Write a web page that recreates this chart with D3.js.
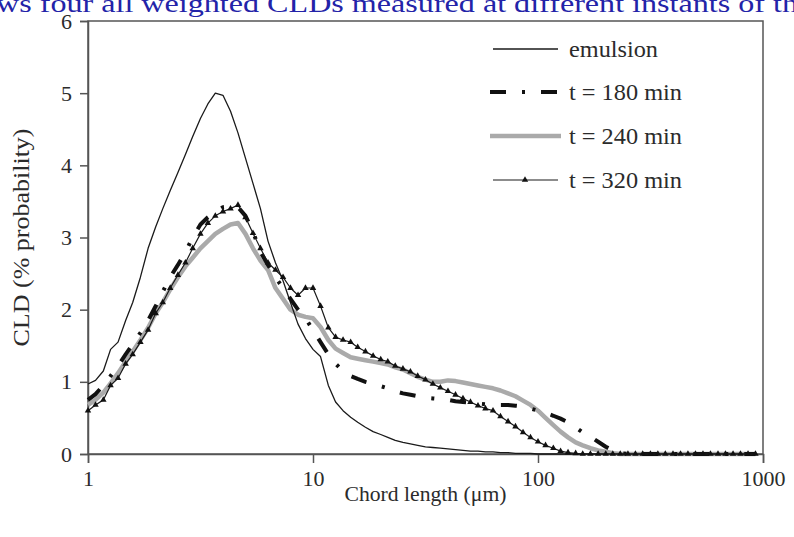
<!DOCTYPE html>
<html>
<head>
<meta charset="utf-8">
<script src="https://cdn.jsdelivr.net/npm/d3@7"></script>
<style>
  body { margin: 0; background: #fff; }
  svg { display: block; }
  text { font-family: "Liberation Serif", "Times New Roman", serif; fill: #2b2b2b; }
</style>
</head>
<body>
<div class="chart-box"></div>
<script>
// chord length channels (um), log spaced
var chord = [1, 1.08, 1.17, 1.26, 1.36, 1.47, 1.58, 1.71, 1.85, 2.00,
  2.15, 2.32, 2.51, 2.71, 2.92, 3.16, 3.41, 3.68, 3.98, 4.30,
  4.64, 5.01, 5.41, 5.84, 6.31, 6.81, 7.36, 7.94, 8.58, 9.26,
  10.0, 10.8, 11.7, 12.6, 13.6, 14.7, 15.8, 17.1, 18.5, 20.0,
  21.5, 23.2, 25.1, 27.1, 29.2, 31.6, 34.1, 36.8, 39.8, 43.0,
  46.4, 50.1, 54.1, 58.4, 63.1, 68.1, 73.6, 79.4, 85.8, 92.6,
  100, 108, 117, 126, 136, 147, 158, 171, 185, 200,
  215, 232, 251, 271, 292, 316, 341, 368, 398, 430,
  464, 501, 541, 584, 631, 681, 736, 794, 858, 926];

var emulsion = [0.97, 1.02, 1.15, 1.45, 1.55, 1.85, 2.10, 2.45, 2.85, 3.15,
  3.40, 3.65, 3.90, 4.15, 4.40, 4.65, 4.85, 5.00, 4.97, 4.75,
  4.45, 4.10, 3.75, 3.40, 2.95, 2.65, 2.40, 2.10, 1.80, 1.60,
  1.45, 1.35, 0.95, 0.72, 0.60, 0.51, 0.44, 0.37, 0.31, 0.27,
  0.23, 0.19, 0.16, 0.14, 0.12, 0.10, 0.09, 0.08, 0.07, 0.06,
  0.05, 0.04, 0.04, 0.03, 0.03, 0.02, 0.02, 0.01, 0.01, 0.01,
  0, 0, 0, 0, 0, 0, 0, 0, 0, 0,
  0, 0, 0, 0, 0, 0, 0, 0, 0, 0,
  0, 0, 0, 0, 0, 0, 0, 0, 0, 0];

var t180 = [0.75, 0.83, 0.95, 1.08, 1.22, 1.38, 1.52, 1.68, 1.85, 2.05,
  2.25, 2.45, 2.62, 2.80, 3.00, 3.18, 3.28, 3.35, 3.42, 3.43,
  3.42, 3.30, 3.08, 2.80, 2.62, 2.45, 2.30, 2.15, 2.00, 1.88,
  1.72, 1.55, 1.38, 1.25, 1.15, 1.08, 1.04, 1.00, 0.97, 0.94,
  0.91, 0.87, 0.84, 0.82, 0.80, 0.78, 0.77, 0.76, 0.75, 0.73,
  0.72, 0.71, 0.70, 0.69, 0.68, 0.68, 0.68, 0.67, 0.66, 0.63,
  0.60, 0.57, 0.53, 0.49, 0.44, 0.37, 0.30, 0.24, 0.17, 0.10,
  0.05, 0.01, 0, 0, 0, 0, 0, 0, 0, 0,
  0, 0, 0, 0, 0, 0, 0, 0, 0, 0];

var t240 = [0.68, 0.75, 0.85, 0.98, 1.12, 1.28, 1.42, 1.58, 1.75, 1.95,
  2.10, 2.28, 2.45, 2.60, 2.72, 2.85, 2.95, 3.05, 3.12, 3.18,
  3.20, 3.05, 2.85, 2.68, 2.55, 2.30, 2.15, 2.00, 1.93, 1.90,
  1.88, 1.76, 1.58, 1.46, 1.40, 1.34, 1.32, 1.30, 1.28, 1.26,
  1.24, 1.20, 1.17, 1.12, 1.07, 1.03, 1.00, 1.00, 1.02, 1.01,
  0.99, 0.97, 0.95, 0.93, 0.91, 0.88, 0.84, 0.80, 0.74, 0.68,
  0.60, 0.50, 0.40, 0.31, 0.23, 0.16, 0.12, 0.08, 0.05, 0.03,
  0.01, 0, 0, 0, 0, 0, 0, 0, 0, 0,
  0, 0, 0, 0, 0, 0, 0, 0, 0, 0];

var t320 = [0.60, 0.68, 0.75, 0.95, 1.05, 1.25, 1.38, 1.55, 1.72, 1.95,
  2.10, 2.30, 2.48, 2.65, 2.85, 3.05, 3.20, 3.30, 3.36, 3.40,
  3.45, 3.28, 3.06, 2.85, 2.65, 2.55, 2.45, 2.30, 2.20, 2.30,
  2.30, 2.05, 1.75, 1.62, 1.58, 1.55, 1.48, 1.42, 1.36, 1.31,
  1.28, 1.22, 1.18, 1.14, 1.08, 1.03, 0.97, 0.92, 0.87, 0.82,
  0.77, 0.72, 0.67, 0.63, 0.60, 0.52, 0.45, 0.38, 0.30, 0.23,
  0.17, 0.12, 0.08, 0.04, 0.02, 0.01, 0, 0, 0, 0,
  0, 0, 0, 0, 0, 0, 0, 0, 0, 0,
  0, 0, 0, 0, 0, 0, 0, 0, 0, 0];

var series_names = ["emulsion", "t = 180 min", "t = 240 min", "t = 320 min"];
var y_ticks = [0, 1, 2, 3, 4, 5, 6];
var x_ticks = [1, 10, 100, 1000];

var width = 794, height = 537;
var margin = {top: 21, right: 31, bottom: 83, left: 88};

var svg = d3.select(".chart-box").append("svg")
    .attr("width", width)
    .attr("height", height);

// clipped caption line from the page above the figure
svg.append("text")
    .attr("x", -4)
    .attr("y", 12)
    .attr("textLength", 802)
    .attr("lengthAdjust", "spacingAndGlyphs")
    .style("font-size", "25px")
    .style("fill", "#2323a8")
    .text("ws four all weighted CLDs measured at different instants of th");

var x = d3.scaleLog()
    .domain([1, 1000])
    .range([margin.left, width - margin.right]);
var y = d3.scaleLinear()
    .domain([0, 6])
    .range([height - margin.bottom, margin.top]);

// frame
svg.append("rect")
    .attr("x", x.range()[0])
    .attr("y", y.range()[1])
    .attr("width", x.range()[1] - x.range()[0])
    .attr("height", y.range()[0] - y.range()[1])
    .attr("fill", "none")
    .attr("stroke", "#555")
    .attr("stroke-width", 1.5);

var xAxis = svg.append("g")
    .attr("transform", "translate(0," + y(0) + ")")
    .call(d3.axisBottom(x).tickValues(x_ticks).tickFormat(d3.format("d")).tickSize(9).tickPadding(7));
var yAxis = svg.append("g")
    .attr("transform", "translate(" + x(1) + ",0)")
    .call(d3.axisLeft(y).tickValues(y_ticks).tickFormat(d3.format("d")).tickSize(8).tickPadding(8));

[xAxis, yAxis].forEach(function(g) {
  g.select(".domain").attr("stroke", "#555").attr("stroke-width", 1.5);
  g.selectAll(".tick line").attr("stroke", "#555").attr("stroke-width", 1.5);
  g.selectAll(".tick text")
    .style("font-family", '"Liberation Serif", serif')
    .style("font-size", "22px")
    .attr("fill", "#2b2b2b");
});

svg.append("text")
    .attr("x", (x.range()[0] + x.range()[1]) / 2)
    .attr("y", 501)
    .attr("text-anchor", "middle")
    .attr("textLength", 162)
    .attr("lengthAdjust", "spacingAndGlyphs")
    .style("font-size", "22px")
    .text("Chord length (\u03bcm)");

svg.append("text")
    .attr("transform", "translate(29," + (y.range()[0] + y.range()[1]) / 2 + ") rotate(-90)")
    .attr("text-anchor", "middle")
    .attr("textLength", 218)
    .attr("lengthAdjust", "spacingAndGlyphs")
    .style("font-size", "23px")
    .text("CLD (% probability)");

function pts(vals) {
  return chord.map(function(c, i) { return [c, vals[i]]; });
}

var line = d3.line()
    .x(function(d) { return x(d[0]); })
    .y(function(d) { return y(d[1]); });

var styles = [
  {data: emulsion, stroke: "#1a1a1a", width: 1.3, dash: null},
  {data: t180, stroke: "#111", width: 4, dash: "16,16,3,16"},
  {data: t240, stroke: "#aaaaaa", width: 4.5, dash: null},
  {data: t320, stroke: "#1a1a1a", width: 1.2, dash: null}
];

// draw 240 first so the black lines sit on top
[2, 0, 1, 3].forEach(function(k) {
  var s = styles[k];
  svg.append("path")
      .datum(pts(s.data))
      .attr("fill", "none")
      .attr("stroke", s.stroke)
      .attr("stroke-width", s.width)
      .attr("stroke-linejoin", "round")
      .attr("stroke-dasharray", s.dash)
      .attr("d", line);
});

var tri = d3.symbol().type(d3.symbolTriangle).size(18);
svg.selectAll(".tri")
    .data(pts(t320))
  .enter().append("path")
    .attr("class", "tri")
    .attr("transform", function(d) { return "translate(" + x(d[0]) + "," + y(d[1]) + ")"; })
    .attr("d", tri)
    .attr("fill", "#111");

// legend
var legend = svg.append("g");
var legY = [49, 92, 136, 180];
var legLen = [89, 113, 113, 113];
series_names.forEach(function(name, k) {
  var s = styles[k];
  var row = legend.append("g").attr("transform", "translate(0," + legY[k] + ")");
  row.append("line")
      .attr("x1", k === 0 || k === 3 ? 493 : 490)
      .attr("x2", k === 0 || k === 3 ? 558 : 561)
      .attr("stroke", s.stroke)
      .attr("stroke-width", s.width)
      .attr("stroke-dasharray", s.dash);
  if (k === 3) {
    row.append("path")
        .attr("transform", "translate(525,0)")
        .attr("d", tri)
        .attr("fill", "#111");
  }
  row.append("text")
      .attr("x", 569)
      .attr("y", 8)
      .attr("textLength", legLen[k])
      .attr("lengthAdjust", "spacingAndGlyphs")
      .style("font-size", "23px")
      .text(name);
});
</script>
</body>
</html>
